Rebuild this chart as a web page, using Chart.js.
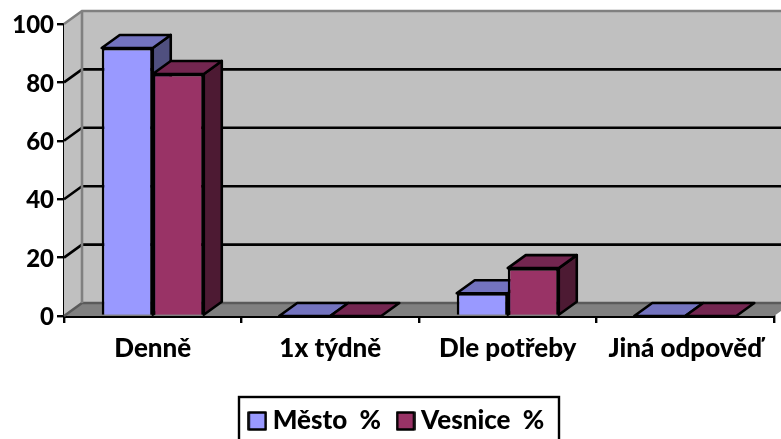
<!DOCTYPE html>
<html>
<head>
<meta charset="utf-8">
<style>html,body{margin:0;padding:0;background:#fff;overflow:hidden}canvas{display:block}</style>
<script src="https://cdn.jsdelivr.net/npm/chart.js@4"></script>
</head>
<body>
<canvas id="c" width="781" height="439"></canvas>
<script>
const categories = ['Denně', '1x týdně', 'Dle potřeby', 'Jiná odpověď'];
const mestoValues = [91.8, 0, 7.8, 0];
const vesniceValues = [82.9, 0, 16.4, 0];
const seriesNames = ['Město  %', 'Vesnice  %'];
const yTicks = [0, 20, 40, 60, 80, 100];

const DX = 18, DY = -13;
const LW = 2.6;
const faces = [
  {front:'#9999FF', top:'#7373BF', side:'#50507F'},
  {front:'#993366', top:'#732650', side:'#4D1A33'}
];
function poly(ctx, pts, fill, stroke, lw){
  ctx.beginPath();
  pts.forEach((p,i)=> i?ctx.lineTo(p[0],p[1]):ctx.moveTo(p[0],p[1]));
  ctx.closePath();
  if(fill){ctx.fillStyle=fill;ctx.fill();}
  if(stroke){ctx.strokeStyle=stroke;ctx.lineWidth=lw;ctx.lineJoin='round';ctx.stroke();}
}
function swatch(color){
  const c=document.createElement('canvas');c.width=20;c.height=20;
  const g=c.getContext('2d');
  g.fillStyle=color;g.fillRect(1.5,1.5,17,17);
  g.strokeStyle='#000';g.lineWidth=2.6;g.lineJoin='round';g.strokeRect(1.5,1.5,17,17);
  return c;
}
const box3d = {
  id:'box3d',
  afterLayout(chart){
    const lg=chart.legend;
    lg.left=9;lg.right=790;
    lg.top+=5;lg.bottom+=5;
  },
  beforeDatasetsDraw(chart){
    const {ctx,chartArea:a,scales:{y}} = chart;
    const y0=y.getPixelForValue(0), y1=y.getPixelForValue(100);
    ctx.save();
    poly(ctx,[[a.left+DX,y1+DY],[a.right+DX,y1+DY],[a.right+DX,y0+DY],[a.left+DX,y0+DY]],'#C0C0C0');
    poly(ctx,[[a.left,y1],[a.left+DX,y1+DY],[a.left+DX,y0+DY],[a.left,y0]],'#C0C0C0');
    poly(ctx,[[a.left,y0],[a.left+DX,y0+DY],[a.right+DX,y0+DY],[a.right,y0]],'#808080');
    yTicks.forEach(v=>{
      const p=y.getPixelForValue(v);
      ctx.strokeStyle = v===100 ? '#808080' : (v===0 ? '#5A5A5A' : '#000');
      ctx.lineWidth = LW;
      ctx.beginPath();
      ctx.moveTo(a.left,p);ctx.lineTo(a.left+DX,p+DY);ctx.lineTo(a.right+DX,p+DY);
      ctx.stroke();
    });
    ctx.strokeStyle='#808080';ctx.lineWidth=LW;
    ctx.beginPath();ctx.moveTo(a.left+DX,y1+DY);ctx.lineTo(a.left+DX,y0+DY);ctx.stroke();
    chart.data.datasets.forEach((ds,i)=>{
      chart.getDatasetMeta(i).data.forEach(el=>{
        const l=el.x-el.width/2,r=el.x+el.width/2,t=el.y,b=el.base;
        if(b-t>0.5) poly(ctx,[[r,t],[r+DX,t+DY],[r+DX,b+DY],[r,b]],faces[i].side,'#000',LW);
        poly(ctx,[[l,t],[l+DX,t+DY],[r+DX,t+DY],[r,t]],faces[i].top,'#000',LW);
      });
    });
    ctx.restore();
  },
  afterDraw(chart){
    const {ctx} = chart;
    ctx.save();
    ctx.strokeStyle='#000';ctx.lineWidth=2.4;
    ctx.strokeRect(239,397,320,50);
    ctx.restore();
  }
};
new Chart(document.getElementById('c'),{
  type:'bar',
  plugins:[box3d],
  data:{
    labels:categories,
    datasets:[
      {label:seriesNames[0],data:mestoValues,backgroundColor:faces[0].front,borderColor:'#000',borderWidth:2.6,categoryPercentage:0.575,barPercentage:1},
      {label:seriesNames[1],data:vesniceValues,backgroundColor:faces[1].front,borderColor:'#000',borderWidth:2.6,categoryPercentage:0.575,barPercentage:1}
    ]
  },
  options:{
    responsive:false,
    animation:false,
    layout:{padding:{left:12,right:7,top:24,bottom:0}},
    plugins:{
      tooltip:{enabled:false},
      legend:{
        position:'bottom',
        labels:{
          font:{family:'Lato',weight:'900',size:26},
          color:'#000',
          usePointStyle:true,pointStyleWidth:5,boxHeight:18,padding:22,
          generateLabels(chart){
            return chart.data.datasets.map((d,i)=>({text:d.label,fillStyle:d.backgroundColor,strokeStyle:'#000',lineWidth:2.4,datasetIndex:i,fontColor:'#000',pointStyle:swatch(d.backgroundColor)}));
          }
        }
      }
    },
    scales:{
      x:{
        grid:{drawOnChartArea:false,drawTicks:true,tickLength:7,color:'#000',lineWidth:2.4,offset:true},
        border:{color:'#000',width:3},
        ticks:{color:'#000',font:{family:'Lato',weight:'900',size:26},padding:10,maxRotation:0},
        afterFit(s){s.height=65;}
      },
      y:{
        min:0,max:100,
        afterBuildTicks(s){s.ticks=yTicks.map(v=>({value:v}));},
        grid:{drawOnChartArea:false,drawTicks:true,tickLength:7,color:'#000',lineWidth:2.4},
        border:{color:'#000',width:3},
        ticks:{color:'#000',font:{family:'Lato',weight:'900',size:24},padding:3,labelOffset:1.5},
        afterFit(s){s.width=52;}
      }
    }
  }
});
</script>
</body>
</html>
